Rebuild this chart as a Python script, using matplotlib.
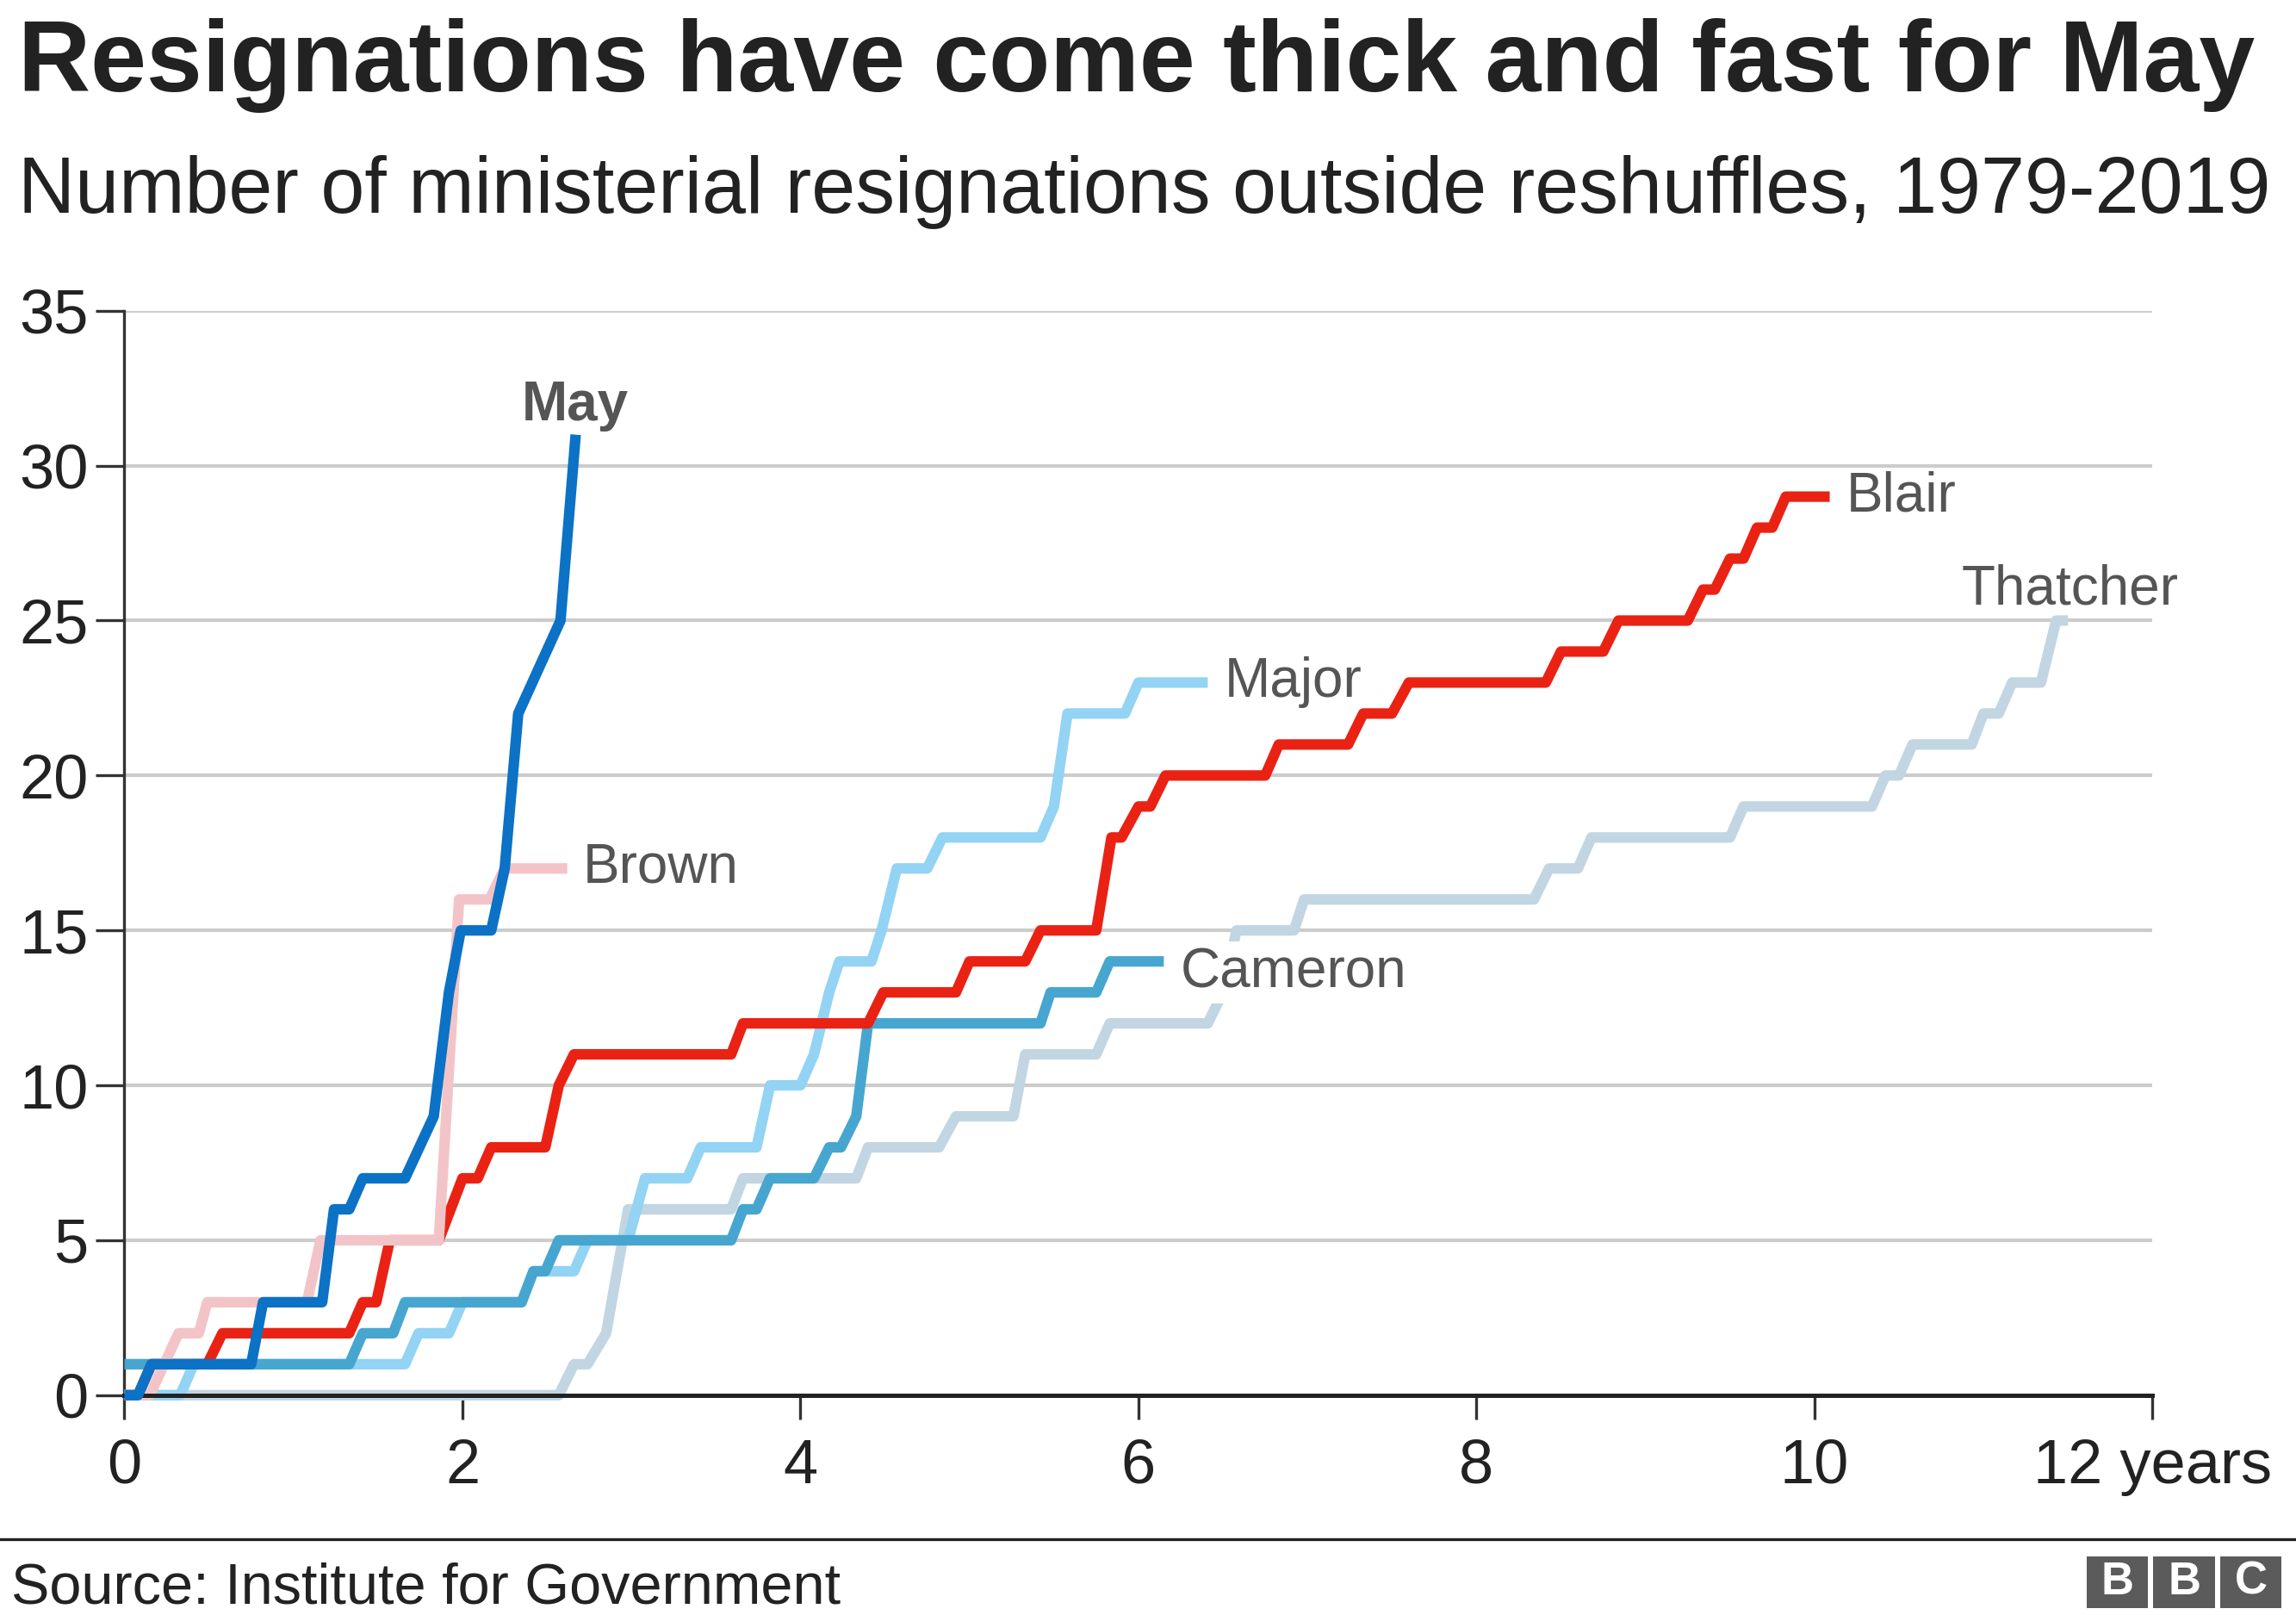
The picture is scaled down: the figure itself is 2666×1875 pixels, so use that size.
import matplotlib
matplotlib.use("Agg")
import matplotlib.pyplot as plt
from matplotlib.patches import Rectangle

plt.rcParams['font.family'] = ['Liberation Sans', 'DejaVu Sans']

# years in office vs cumulative resignations
thatcher_x = [0, 2.57, 2.66, 2.74, 2.85, 2.98, 3.59, 3.66, 4.33, 4.40, 4.82, 4.92, 5.26, 5.33,
              5.75, 5.83, 6.41, 6.50, 6.58, 6.92, 6.98, 8.34, 8.43, 8.60, 8.68, 9.50, 9.58,
              10.34, 10.42, 10.50, 10.58, 10.93, 11.00, 11.09, 11.17, 11.34, 11.43, 11.50]
thatcher_y = [0, 0, 1, 1, 2, 6, 6, 7, 7, 8, 8, 9, 9, 11,
              11, 12, 12, 13, 15, 15, 16, 16, 17, 17, 18, 18, 19,
              19, 20, 20, 21, 21, 22, 22, 23, 23, 25, 25]

major_x = [0, 0.33, 0.41, 1.66, 1.74, 1.92, 2.00, 2.35, 2.42, 2.66, 2.74, 2.98, 3.08, 3.33,
           3.41, 3.74, 3.82, 4.00, 4.08, 4.17, 4.23, 4.42, 4.48, 4.57, 4.75, 4.84, 5.42,
           5.50, 5.58, 5.92, 6.00, 6.41]
major_y = [0, 0, 1, 1, 2, 2, 3, 3, 4, 4, 5, 5, 7, 7,
           8, 8, 10, 10, 11, 13, 14, 14, 15, 17, 17, 18, 18,
           19, 22, 22, 23, 23]

cameron_x = [0, 1.33, 1.41, 1.59, 1.66, 2.35, 2.42, 2.49, 2.57, 3.59, 3.66, 3.74, 3.82, 4.08,
             4.17, 4.24, 4.33, 4.40, 5.42, 5.48, 5.75, 5.83, 6.15]
cameron_y = [1, 1, 2, 2, 3, 3, 4, 4, 5, 5, 6, 6, 7, 7,
             8, 8, 9, 12, 12, 13, 13, 14, 14]

blair_x = [0, 0.08, 0.16, 0.49, 0.58, 1.33, 1.41, 1.49, 1.57, 1.86, 1.93, 2.00, 2.09, 2.17,
           2.49, 2.57, 2.66, 3.59, 3.66, 4.40, 4.49, 4.92, 5.00, 5.33, 5.42, 5.75, 5.84,
           5.90, 6.00, 6.07, 6.16, 6.75, 6.83, 7.24, 7.33, 7.50, 7.60, 8.41, 8.50, 8.75,
           8.84, 9.25, 9.34, 9.41, 9.50, 9.58, 9.66, 9.75, 9.83, 10.09]
blair_y = [0, 0, 1, 1, 2, 2, 3, 3, 5, 5, 6, 7, 7, 8,
           8, 10, 11, 11, 12, 12, 13, 13, 14, 14, 15, 15, 18,
           18, 19, 19, 20, 20, 21, 21, 22, 22, 23, 23, 24, 24,
           25, 25, 26, 26, 27, 27, 28, 28, 29, 29]

brown_x = [0, 0.15, 0.32, 0.44, 0.49, 1.08, 1.16, 1.86, 1.98, 2.16, 2.25, 2.62]
brown_y = [0, 0, 2, 2, 3, 3, 5, 5, 16, 16, 17, 17]

may_x = [0, 0.08, 0.16, 0.75, 0.82, 1.17, 1.24, 1.33, 1.41, 1.66, 1.83, 1.92, 1.99, 2.17,
         2.25, 2.33, 2.58, 2.67]
may_y = [0, 0, 1, 1, 3, 3, 6, 6, 7, 7, 9, 13, 15, 15,
         17, 22, 25, 31]

# drawn bottom to top
series = [
    ('Thatcher', thatcher_x, thatcher_y, '#c2d5e2'),
    ('Major', major_x, major_y, '#93d3f4'),
    ('Cameron', cameron_x, cameron_y, '#47a6cf'),
    ('Blair', blair_x, blair_y, '#ea2214'),
    ('Brown', brown_x, brown_y, '#f3c4c7'),
    ('May', may_x, may_y, '#0b72c6'),
]

x_ticks = [0, 2, 4, 6, 8, 10, 12]
x_tick_labels = ['0', '2', '4', '6', '8', '10', '12 years']
y_ticks = [0, 5, 10, 15, 20, 25, 30, 35]

fig = plt.figure(figsize=(13.33, 9.375), dpi=200)
ax = fig.add_axes([0.0542, 0.1361, 0.8833, 0.6715])

for i, (name, xs, ys, col) in enumerate(series):
    ax.plot(xs, ys, color=col, lw=4.4, solid_joinstyle='round',
            solid_capstyle='butt', zorder=4 + i, clip_on=False)

ax.set_xlim(0, 12)
ax.set_ylim(0, 35)
ax.set_xticks(x_ticks)
ax.set_xticklabels(x_tick_labels)
ax.set_yticks(y_ticks)
ax.tick_params(axis='x', length=10, width=1.2, color='#333333', pad=8,
               labelsize=26, labelcolor='#222222')
ax.tick_params(axis='y', length=12, width=1.2, color='#333333', pad=3,
               labelsize=26, labelcolor='#222222')
ax.grid(axis='y', color='#cccccc', lw=1.5, zorder=1)
ax.set_axisbelow(True)
for s in ['top', 'right']:
    ax.spines[s].set_visible(False)
ax.spines['left'].set_color('#333333')
ax.spines['left'].set_linewidth(1.2)
ax.spines['bottom'].set_color('#222222')
ax.spines['bottom'].set_linewidth(1.8)
# axis line sits over the flat zero runs, only May is drawn above it
ax.spines['bottom'].set_zorder(8.5)

lab = dict(fontsize=23, color='#555555', va='baseline', zorder=20)
ax.text(2.665, 31.45, 'May', ha='center', fontweight='bold', **lab)
ax.text(2.71, 16.56, 'Brown', ha='left', **lab)
ax.text(6.51, 22.54, 'Major', ha='left', **lab)
ax.text(6.25, 13.17, 'Cameron', ha='left',
        bbox=dict(facecolor='white', edgecolor='none', pad=2), **lab)
ax.text(10.19, 28.53, 'Blair', ha='left', **lab)
ax.text(11.51, 25.53, 'Thatcher', ha='center', **lab)

fig.text(0.0077, 0.9437, 'Resignations have come thick and fast for May',
         fontsize=42, fontweight='bold', color='#222222', va='baseline')
fig.text(0.0077, 0.8684,
         'Number of ministerial resignations outside reshuffles, 1979-2019',
         fontsize=33, color='#222222', va='baseline')

fig.add_artist(plt.Line2D([0, 1], [0.0472, 0.0472], color='#222222', lw=1.2))
fig.text(0.005, 0.0073, 'Source: Institute for Government', fontsize=24,
         color='#222222', va='baseline')

# BBC blocks
for k, letter in enumerate('BBC'):
    x0 = 0.9088 + k * 0.0291
    fig.add_artist(Rectangle((x0, 0.0045), 0.0268, 0.0318, transform=fig.transFigure,
                             facecolor='#5b5b5b', edgecolor='none'))
    fig.text(x0 + 0.0134, 0.0045 + 0.0159, letter, fontsize=19, fontweight='bold',
             color='white', ha='center', va='center')

fig.savefig('out.png', dpi=200, facecolor='white')
